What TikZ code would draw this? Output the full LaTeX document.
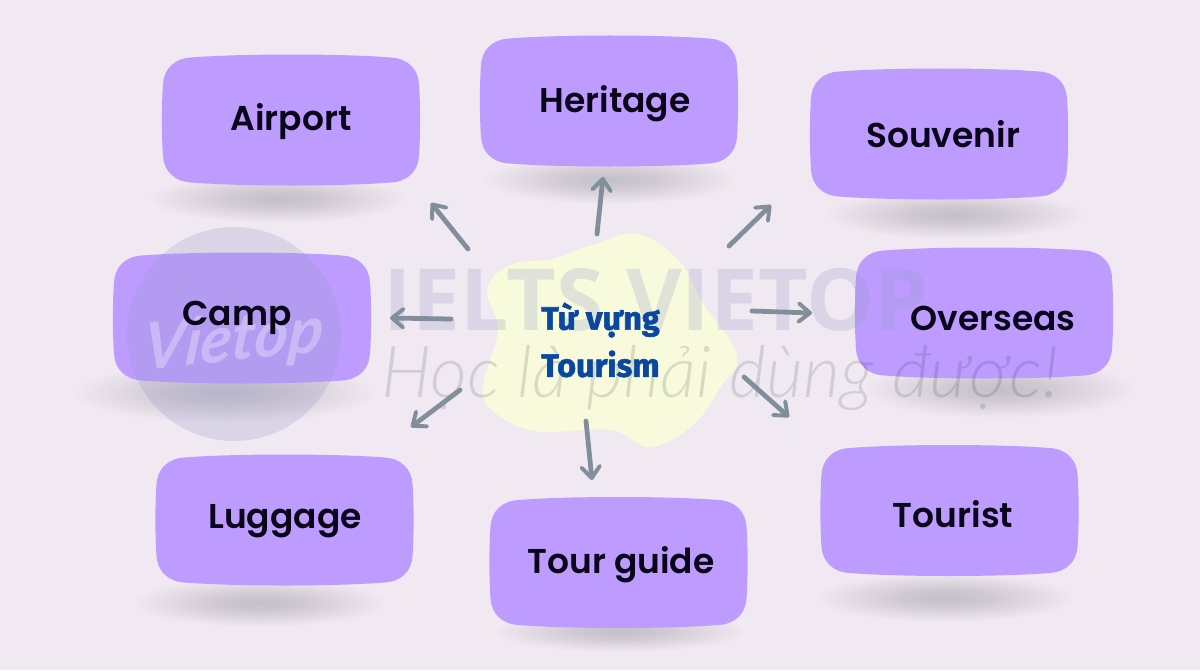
\documentclass[tikz,border=0pt]{standalone}
\usepackage{fontspec}
\setmainfont{Poppins SemiBold}
\newfontfamily\hubfont{Fira Sans}[FakeBold=1.8]
\newfontfamily\markfont{Open Sans}
\newfontfamily\sloganfont{Lato Light}
\newfontfamily\logofont{Lato}
\usetikzlibrary{arrows.meta}
\definecolor{page_bg}{RGB}{240, 233, 242}
\definecolor{box_purple}{RGB}{190, 156, 255}
\definecolor{hub_yellow}{RGB}{248, 250, 220}
\definecolor{hub_blue}{RGB}{10, 72, 160}
\definecolor{arrow_grey}{RGB}{128, 143, 154}
\definecolor{shadow_grey}{RGB}{150, 150, 160}
\definecolor{mark_blue}{RGB}{150, 155, 200}
\definecolor{ink}{RGB}{8, 6, 24}
\tikzstyle{word}=[text=ink,font=\fontsize{24.5}{26}\selectfont,inner sep=0pt,anchor=base]
\tikzstyle{hub}=[text=hub_blue,font=\hubfont\fontsize{23}{33.5}\selectfont\bfseries,align=center,inner sep=0pt]
\tikzstyle{arr}=[draw=arrow_grey,line width=3.4pt,line cap=round,-{Straight Barb[length=8pt,width=13pt,line width=2.8pt,round]}]
\tikzstyle{none}=[inner sep=0pt]
\newcommand{\softshadow}[4]{%
  \foreach \k in {1,...,24} {
    \fill [shadow_grey, opacity=0.018] (#1,#2) ellipse ({#3*\k/24} and {#4*\k/24});
  }
}
\newcommand{\wordbox}[2]{%
  \fill [box_purple, shift={(#1,#2)}] (-128,-36) .. controls (-127,-51) and (-117,-61.5) .. (-100,-62.5)
    .. controls (-50,-66.5) and (50,-66.5) .. (100,-62.5) .. controls (117,-61.5) and (127,-51) .. (128,-36)
    .. controls (129.5,-15) and (129.5,15) .. (128,36) .. controls (127,51) and (117,61.5) .. (100,62.5)
    .. controls (50,66.5) and (-50,66.5) .. (-100,62.5) .. controls (-117,61.5) and (-127,51) .. (-128,36)
    .. controls (-129.5,15) and (-129.5,-15) .. (-128,-36) -- cycle;
}
\begin{document}
\begin{tikzpicture}[x=0.025cm, y=-0.025cm]
    \useasboundingbox (0,0) rectangle (1200,670);
    \fill [page_bg] (0,0) rectangle (1200,670);
    % shadows
    \softshadow{278}{199}{128}{24}
    \softshadow{610}{180}{125}{24}
    \softshadow{955}{215}{128}{24}
    \softshadow{225}{393}{150}{30}
    \softshadow{1000}{390}{135}{28}
    \softshadow{260}{603}{125}{24}
    \softshadow{620}{632}{125}{20}
    \softshadow{945}{598}{128}{24}
    % boxes
    \wordbox{291}{120}
    \wordbox{609}{101}
    \wordbox{939}{134}
    \wordbox{242}{318}
    \wordbox{984}{313}
    \wordbox{284.5}{520}
    \wordbox{618.5}{562.5}
    \wordbox{949.5}{510.5}
    % centre blob
    \fill [hub_yellow] plot [smooth cycle, tension=0.65] coordinates {(638,234) (680,262) (701,300) (737,355) (720,388) (693,425) (650,447) (610,430) (535,431) (492,410) (483,385) (498,330) (487,290) (510,265) (552,259) (592,245)};
    % watermark
    \fill [mark_blue, opacity=0.25] (234,334) circle (107);
    \node [none, text=white, opacity=0.3, rotate=6, xslant=0.2, transform shape, font=\logofont\fontsize{46}{46}\selectfont\bfseries\itshape] (25) at (234,342) {Vietop};
    \node [none, text=mark_blue, opacity=0.25, font=\markfont\fontsize{61}{61}\selectfont\bfseries] (26) at (656,300) {IELTS VIETOP};
    \node [none, text=black, opacity=0.12, font=\sloganfont\fontsize{51}{51}\selectfont\itshape] (27) at (720,378) {Học là phải dùng được!};
    \node [style=word] (0) at (291, 130) {Airport};
    \node [style=word] (1) at (615, 112) {Heritage};
    \node [style=word] (2) at (943, 147) {Souvenir};
    \node [style=word] (3) at (237, 325) {Camp};
    \node [style=word] (4) at (993, 330) {Overseas};
    \node [style=word] (5) at (285, 528) {Luggage};
    \node [style=word] (6) at (621, 573) {Tour guide};
    \node [style=word] (7) at (953, 527) {Tourist};
    \node [style=hub] (8) at (600.5, 340) {Từ vựng\\Tourism};
    \node [style=none] (9) at (468, 249) {};
    \node [style=none] (10) at (431, 203) {};
    \node [style=none] (11) at (597, 234) {};
    \node [style=none] (12) at (603, 177) {};
    \node [style=none] (13) at (729, 246) {};
    \node [style=none] (14) at (771, 205) {};
    \node [style=none] (15) at (451, 319) {};
    \node [style=none] (16) at (390, 318) {};
    \node [style=none] (17) at (752, 311) {};
    \node [style=none] (18) at (812, 313) {};
    \node [style=none] (19) at (460, 390) {};
    \node [style=none] (20) at (411, 427) {};
    \node [style=none] (21) at (586, 421) {};
    \node [style=none] (22) at (592, 480) {};
    \node [style=none] (23) at (744, 377) {};
    \node [style=none] (24) at (789, 417) {};
    \draw [style=arr] (9.center) to (10.center);
    \draw [style=arr] (11.center) to (12.center);
    \draw [style=arr] (13.center) to (14.center);
    \draw [style=arr] (15.center) to (16.center);
    \draw [style=arr] (17.center) to (18.center);
    \draw [style=arr] (19.center) to (20.center);
    \draw [style=arr] (21.center) to (22.center);
    \draw [style=arr] (23.center) to (24.center);
\end{tikzpicture}
\end{document}
